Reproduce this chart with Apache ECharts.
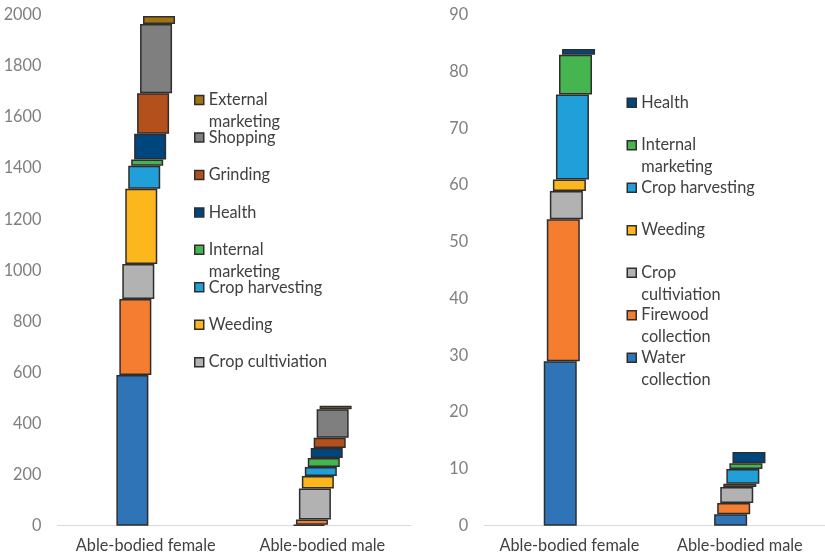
<!DOCTYPE html>
<html>
<head>
<meta charset="utf-8">
<script src="https://cdn.jsdelivr.net/npm/echarts@6/dist/echarts.min.js"></script>
<style>
html,body{margin:0;padding:0;background:#fff;}
#chart{width:825px;height:559px;}
</style>
</head>
<body>
<div id="chart"></div>
<script>
// ---- data ----
const categories = ['Able-bodied female', 'Able-bodied male'];

const leftActivities = ['Water collection', 'Firewood collection', 'Crop cultiviation', 'Weeding',
  'Crop harvesting', 'Internal marketing', 'Health', 'Grinding', 'Shopping', 'External marketing'];
const leftFemale = [590, 298, 137, 295, 90, 24, 101, 159, 271, 31];
const leftMale = [4, 20, 122, 49, 35, 35, 39, 40, 112, 14];

const rightActivities = ['Water collection', 'Firewood collection', 'Crop cultiviation', 'Weeding',
  'Crop harvesting', 'Internal marketing', 'Health'];
const rightFemale = [29, 25, 5, 2, 15, 7, 1];
const rightMale = [2, 2, 2.8, 0.6, 2.6, 1, 2];

const leftLegendNames = ['External marketing', 'Shopping', 'Grinding', 'Health', 'Internal marketing',
  'Crop harvesting', 'Weeding', 'Crop cultiviation'];
const leftLegendLabels = ['External\nmarketing', 'Shopping', 'Grinding', 'Health', 'Internal\nmarketing',
  'Crop harvesting', 'Weeding', 'Crop cultiviation'];
const rightLegendNames = ['Health', 'Internal marketing', 'Crop harvesting', 'Weeding', 'Crop cultiviation',
  'Firewood collection', 'Water collection'];
const rightLegendLabels = ['Health', 'Internal\nmarketing', 'Crop harvesting', 'Weeding', 'Crop\ncultiviation',
  'Firewood\ncollection', 'Water\ncollection'];

const activityColors = {
  'Water collection': '#2e74b7',
  'Firewood collection': '#f47d30',
  'Crop cultiviation': '#b2b2b2',
  'Weeding': '#fcb71c',
  'Crop harvesting': '#219fd9',
  'Internal marketing': '#47b54f',
  'Health': '#00467e',
  'Grinding': '#b4501c',
  'Shopping': '#7f7f7f',
  'External marketing': '#a17210'
};

// ---- styles ----
const FONT = 'Lato, "Open Sans", sans-serif';
const FS = 16.3;
const LH = 21.7;
const BORDER = '#2e2e2e';

function buildSeries(panel, activities, female, male, barWidth) {
  const out = [];
  const cum = [0, 0];
  activities.forEach((name, i) => {
    const base = cum.slice();
    cum[0] += female[i];
    cum[1] += male[i];
    const common = {
      type: 'bar', xAxisIndex: panel, yAxisIndex: panel, stack: 'p' + panel + '_' + i,
      barWidth: barWidth, barGap: '-90.75%'
    };
    out.push(Object.assign({}, common, {
      name: '__base', data: base, silent: true,
      itemStyle: { color: 'rgba(0,0,0,0)', borderWidth: 0 },
      emphasis: { disabled: true }
    }));
    out.push(Object.assign({}, common, {
      name: name, data: [female[i], male[i]],
      itemStyle: { color: activityColors[name], borderColor: BORDER, borderWidth: 1.5 },
      emphasis: { disabled: true }
    }));
  });
  return out;
}

function buildLegends(names, labels, left, firstCenter, step) {
  return names.map((n, i) => {
    const two = labels[i].indexOf('\n') >= 0;
    const c = firstCenter + i * step;
    // a leading empty line keeps the first text line level with the icon
    const shown = two ? '\n' + labels[i] : labels[i];
    return {
      data: [n], orient: 'vertical', left: left, top: c - (two ? 1.5 : 0.5) * LH,
      padding: 0, itemWidth: 9, itemHeight: 9, icon: 'rect', selectedMode: false,
      itemStyle: { borderColor: BORDER, borderWidth: 1.5 },
      formatter: () => shown,
      textStyle: {
        fontFamily: FONT, fontSize: FS, color: '#404040', lineHeight: LH,
        backgroundColor: 'rgba(255,255,255,0)'
      }
    };
  });
}

function xAxisFor(i) {
  return {
    type: 'category', gridIndex: i, data: categories,
    axisLine: { lineStyle: { color: '#d9d9d9', width: 1 } },
    axisTick: { show: false },
    axisLabel: { color: '#404040', fontFamily: FONT, fontSize: FS, margin: 12, interval: 0 }
  };
}
function yAxisFor(i, max, interval) {
  return {
    type: 'value', gridIndex: i, min: 0, max: max, interval: interval,
    axisLine: { show: false }, axisTick: { show: false }, splitLine: { show: false },
    axisLabel: { color: '#7f7f7f', fontFamily: FONT, fontSize: FS, margin: 16,
      formatter: (v) => String(v) }
  };
}

const chart = echarts.init(document.getElementById('chart'), null, { renderer: 'canvas' });
chart.setOption({
  animation: false,
  backgroundColor: '#ffffff',
  grid: [
    { left: 57.4, width: 353.2, top: 15, height: 510.7 },
    { left: 484.2, width: 345.4, top: 15, height: 510.7 }
  ],
  xAxis: [xAxisFor(0), xAxisFor(1)],
  yAxis: [yAxisFor(0, 2000, 200), yAxisFor(1, 90, 10)],
  legend: buildLegends(leftLegendNames, leftLegendLabels, 194, 100, 37.46)
    .concat(buildLegends(rightLegendNames, rightLegendLabels, 626.5, 102.7, 42.5)),
  series: buildSeries(0, leftActivities, leftFemale, leftMale, 32)
    .concat(buildSeries(1, rightActivities, rightFemale, rightMale, 33))
});
</script>
</body>
</html>
